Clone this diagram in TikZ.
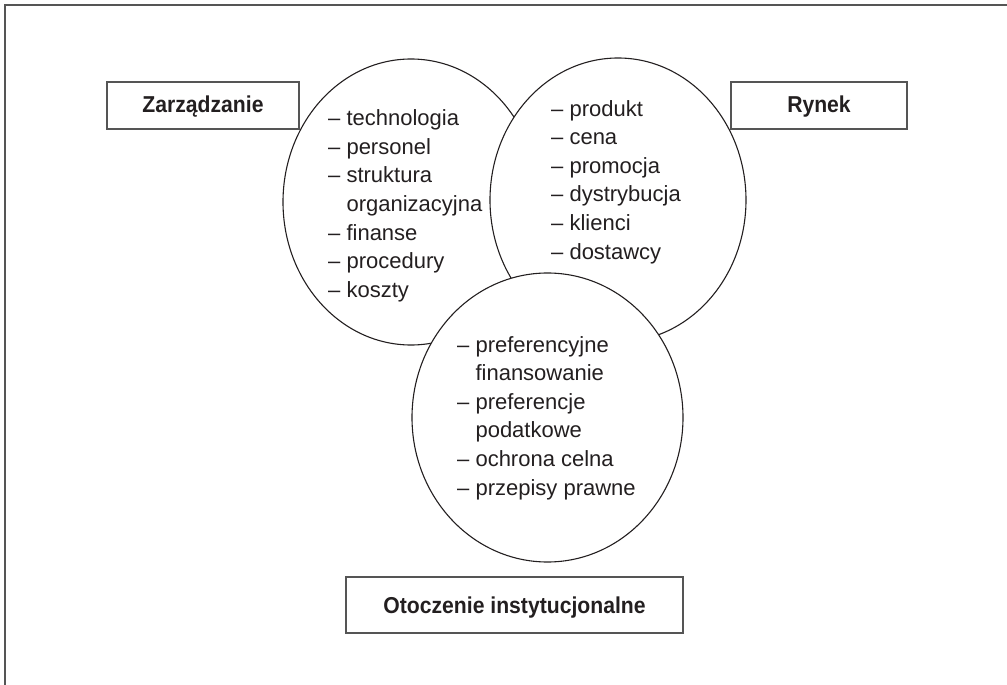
\documentclass[tikz,border=0pt]{standalone}
\usepackage{fontspec}
\setmainfont{Liberation Sans}
\newfontfamily\labfont{Liberation Sans}[FakeStretch=0.92]
\usetikzlibrary{shapes.geometric}
\definecolor{ink}{RGB}{35,31,32}
\definecolor{framegray}{RGB}{85,85,85}
\begin{document}
\begin{tikzpicture}[x=1pt,y=-1pt,
  circ/.style={ellipse, draw=ink, line width=1.1pt, fill=white, inner sep=0pt, outer sep=0pt},
  lab/.style={draw=framegray, line width=1.6pt, font=\labfont\bfseries\fontsize{23}{27}\selectfont, text=ink, inner xsep=0pt, inner ysep=14pt, text height=17pt, text depth=2pt, align=center},
  lst/.style={font=\fontsize{22}{28.6}\selectfont, text=ink, align=left, inner sep=0pt, anchor=north west}]
\useasboundingbox (0,0) rectangle (1007,685);
\draw[framegray, line width=1.6pt] (5,685) -- (5,5) -- (1007,5);
% circles (later ones cover earlier ones)
\node[circ, minimum width=256pt, minimum height=286pt] (zc) at (411,202) {};
\node[circ, minimum width=256pt, minimum height=284pt] (rc) at (618,200) {};
\node[circ, minimum width=271pt, minimum height=289pt] (oc) at (547.5,417.5) {};
% lists
\node[lst] (zl) at (328,109.5) {– technologia\\– personel\\– struktura\\\phantom{–\ }organizacyjna\\– finanse\\– procedury\\– koszty};
\node[lst] (rl) at (551,100) {– produkt\\– cena\\– promocja\\– dystrybucja\\– klienci\\– dostawcy};
\node[lst] (ol) at (457,336) {– preferencyjne\\\phantom{–\ }finansowanie\\– preferencje\\\phantom{–\ }podatkowe\\– ochrona celna\\– przepisy prawne};
% labels
\node[lab, minimum width=192pt] (z) at (203,105.5) {Zarządzanie};
\node[lab, minimum width=176pt] (r) at (819,105.5) {Rynek};
\node[lab, minimum width=337pt, inner ysep=18pt, text height=18pt] (o) at (514.5,605) {Otoczenie instytucjonalne};
\end{tikzpicture}
\end{document}
